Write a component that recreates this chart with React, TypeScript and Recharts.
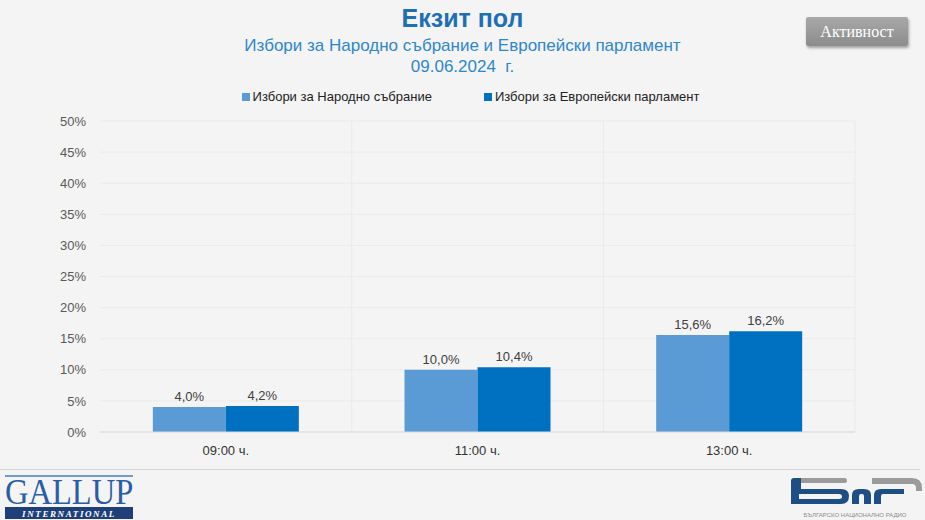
import { BarChart, Bar, XAxis, YAxis, CartesianGrid, LabelList } from 'recharts'

const categories = ['09:00 ч.', '11:00 ч.', '13:00 ч.']
const parliament = [4.0, 10.0, 15.6]
const europe = [4.2, 10.4, 16.2]
const yTicks = [0, 5, 10, 15, 20, 25, 30, 35, 40, 45, 50]

const series = [
  { key: 'parliament', name: 'Избори за Народно събрание', color: '#5b9bd5' },
  { key: 'europe', name: 'Избори за Европейски парламент', color: '#0070c0' },
]

const data = categories.map((c, i) => ({
  name: c,
  parliament: parliament[i],
  europe: europe[i],
}))

const fmt = (v: number) => v.toFixed(1).replace('.', ',') + '%'

const SANS = '"Liberation Sans Narrow", "Liberation Sans", Arial, sans-serif'

const GallupLogo = () => (
  <svg width={140} height={50} style={{ position: 'absolute', left: 0, top: 470 }}>
    <rect x={5} y={5} width={128} height={2} fill='#6d9ccc' />
    <g transform='translate(5,34) scale(0.93,1)'>
      <text x={0} y={0} fontFamily='"Liberation Serif", serif' fontSize={35} fill='#2a5da6'>
        GALLUP
      </text>
    </g>
    <rect x={5} y={37} width={128} height={12} fill='#1f3f7a' />
    <text
      x={69}
      y={46.5}
      textAnchor='middle'
      fontFamily='"Liberation Serif", serif'
      fontStyle='italic'
      fontWeight='bold'
      fontSize={9}
      letterSpacing={1.6}
      fill='#fff'
    >
      INTERNATIONAL
    </text>
  </svg>
)

const BnrLogo = () => (
  <svg width={140} height={50} style={{ position: 'absolute', left: 785, top: 470 }}>
    <g transform='translate(-785,-470)'>
      <rect x={797} y={478} width={50} height={5} rx={2.5} fill='#9b9b9b' />
      <path d='M872 478 H912 Q922 478 922 488 V491 H916 V488 Q916 484 912 484 H872 Z' fill='#9b9b9b' />
      <path
        d='M794 478 H801 V489 H841 Q849 489 849 496 Q849 504 841 504 H791 V481 Q791 478 794 478 Z M799 494 V499 H839 Q842 499 842 496.5 Q842 494 839 494 Z'
        fill='#1d4e86'
        fillRule='evenodd'
      />
      <path d='M852 504 V495 Q852 489 859 489 H864 Q871 489 871 495 V504 H864 V496 Q864 494 862 494 H861 Q859 494 859 496 V504 Z' fill='#1d4e86' />
      <path d='M874 504 V495 Q874 489 881 489 H904 V494 H883 Q881 494 881 496 V504 Z' fill='#1d4e86' />
      <text x={855} y={517} textAnchor='middle' fontFamily={SANS} fontSize={6} fill='#8a8a8a'>
        БЪЛГАРСКО НАЦИОНАЛНО РАДИО
      </text>
    </g>
  </svg>
)

export default function App() {
  return (
    <div
      style={{
        position: 'absolute',
        left: 0,
        top: 0,
        width: 925,
        height: 520,
        background: '#f4f4f4',
        overflow: 'hidden',
        fontFamily: SANS,
      }}
    >
      <div
        style={{
          position: 'absolute',
          top: 4,
          width: 925,
          textAlign: 'center',
          color: '#1f6fb5',
          fontWeight: 'bold',
          fontSize: 25,
        }}
      >
        Екзит пол
      </div>
      <div
        style={{
          position: 'absolute',
          top: 35,
          width: 925,
          textAlign: 'center',
          color: '#2f87cc',
          fontSize: 17,
          lineHeight: '21px',
        }}
      >
        Избори за Народно събрание и Европейски парламент
        <br />
        09.06.2024&nbsp; г.
      </div>
      <div
        style={{
          position: 'absolute',
          left: 806,
          top: 17,
          width: 102,
          height: 29,
          borderRadius: 2,
          background: 'linear-gradient(#a8a8a8, #8c8c8c)',
          boxShadow: '1px 2px 3px rgba(0,0,0,0.35)',
          color: '#fff',
          fontFamily: '"Liberation Serif", serif',
          fontSize: 16,
          lineHeight: '29px',
          textAlign: 'center',
        }}
      >
        Активност
      </div>
      <div
        style={{
          position: 'absolute',
          top: 89,
          left: 0,
          width: 925,
          display: 'flex',
          justifyContent: 'center',
          gap: 52,
          fontSize: 13,
          color: '#222',
          paddingLeft: 8,
        }}
      >
        {series.map((s) => (
          <div key={s.key} style={{ display: 'flex', alignItems: 'center', gap: 3 }}>
            <span style={{ width: 8, height: 8, background: s.color, display: 'inline-block' }} />
            <span>{s.name}</span>
          </div>
        ))}
      </div>
      <div style={{ position: 'absolute', left: 0, top: 0 }}>
        <BarChart
          width={925}
          height={470}
          data={data}
          margin={{ top: 121, right: 70, bottom: 8, left: 40 }}
          barCategoryGap='21%'
          barGap={0}
        >
          <CartesianGrid
            stroke='#eaeaea'
            verticalCoordinatesGenerator={({ offset }) =>
              [1, 2, 3].map((i) => offset.left + (offset.width * i) / categories.length)
            }
          />
          <XAxis
            dataKey='name'
            axisLine={{ stroke: '#d9d9d9' }}
            tickLine={false}
            height={30}
            tick={{ fill: '#333', fontSize: 13 }}
            tickMargin={8}
          />
          <YAxis
            domain={[0, 50]}
            ticks={yTicks}
            tickFormatter={(v) => v + '%'}
            axisLine={false}
            tickLine={false}
            width={60}
            tick={{ fill: '#595959', fontSize: 13 }}
            tickMargin={8}
          />
          {series.map((s) => (
            <Bar key={s.key} dataKey={s.key} name={s.name} fill={s.color} isAnimationActive={false}>
              <LabelList
                dataKey={s.key}
                position='top'
                offset={6}
                formatter={(v: number) => fmt(v)}
                style={{ fill: '#404040', fontSize: 13 }}
              />
            </Bar>
          ))}
        </BarChart>
      </div>
      <div
        style={{
          position: 'absolute',
          left: 0,
          top: 469,
          width: 920,
          height: 1,
          background: '#d4d4d4',
        }}
      />
      <GallupLogo />
      <BnrLogo />
    </div>
  )
}
